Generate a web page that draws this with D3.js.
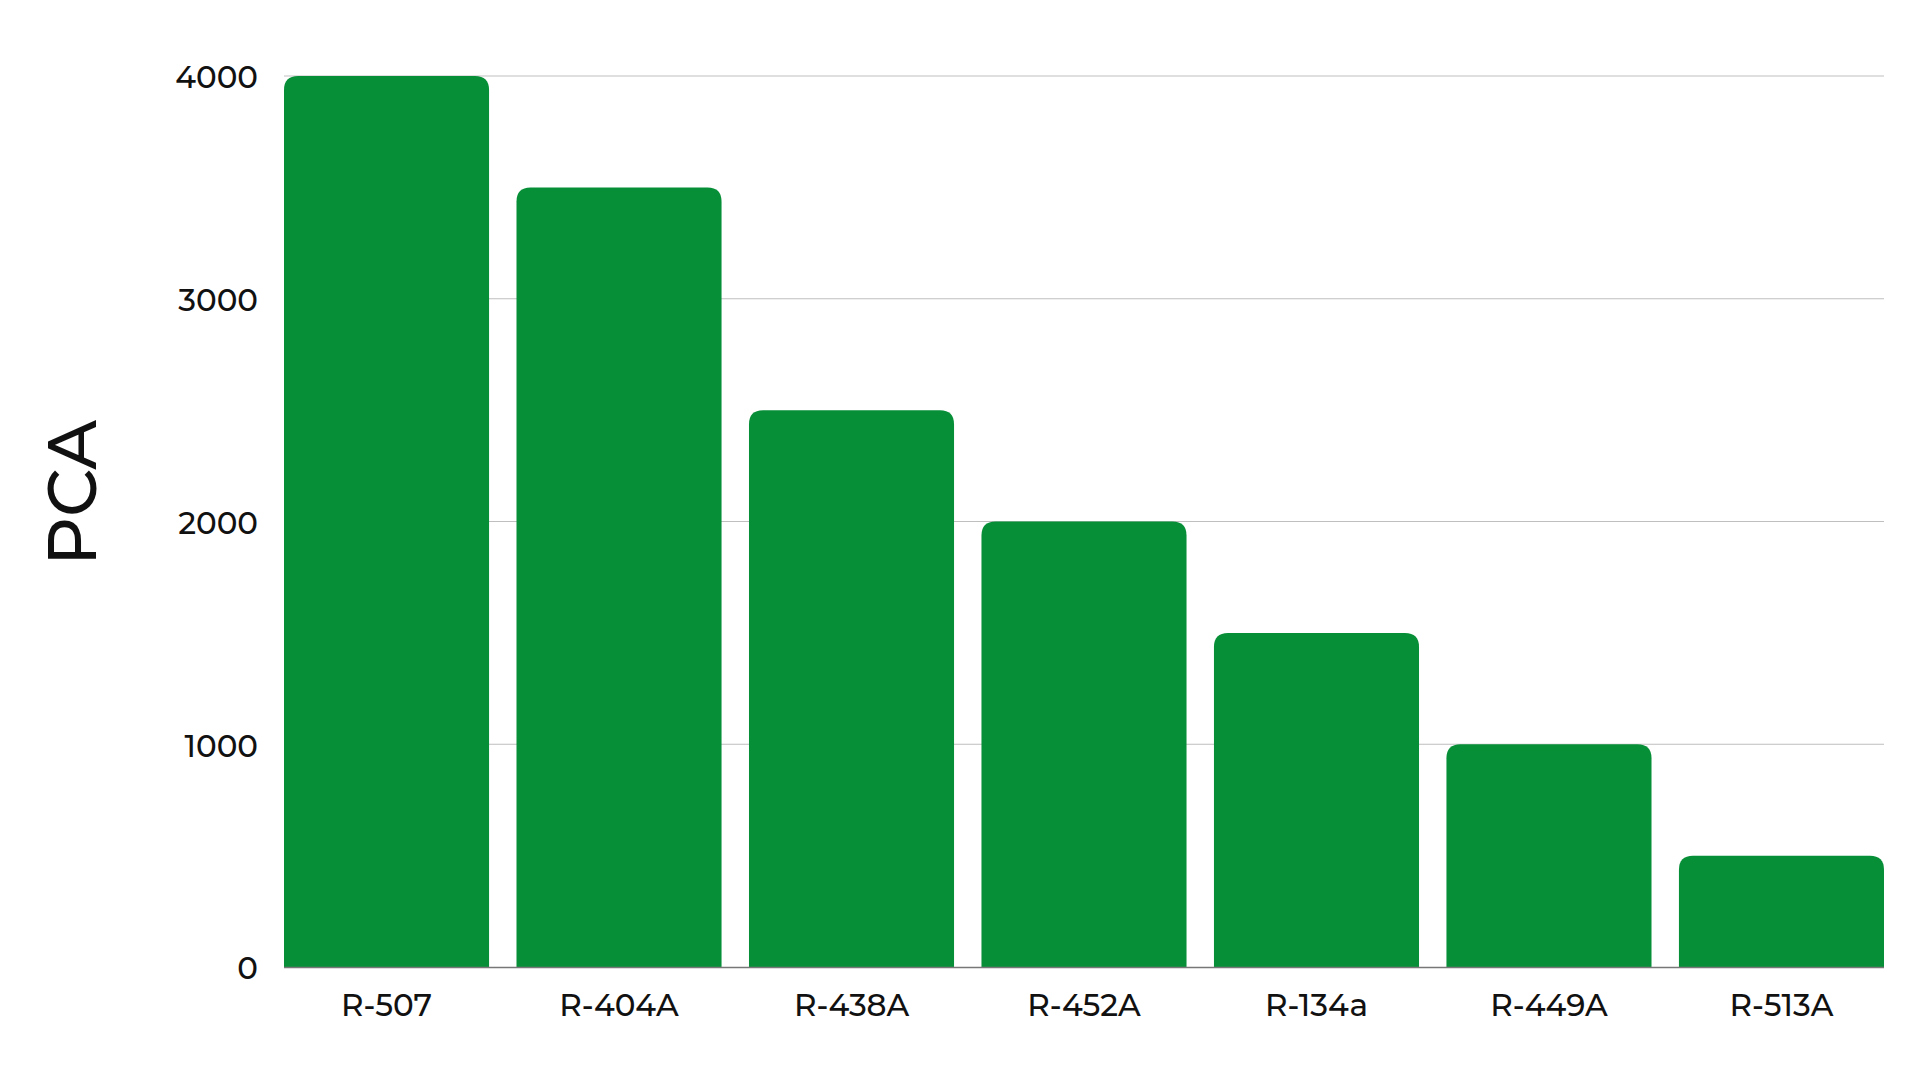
<!DOCTYPE html>
<html>
<head>
<meta charset="utf-8">
<script src="https://cdn.jsdelivr.net/npm/d3@7"></script>
<style>
  body { margin: 0; background: #fff; }
  text { font-family: Montserrat, "Open Sans", Lato, sans-serif; fill: #111; font-weight: 500; }
</style>
</head>
<body>
<div id="chart"></div>
<script>
const categories = ["R-507", "R-404A", "R-438A", "R-452A", "R-134a", "R-449A", "R-513A"]
const values = [4000, 3500, 2500, 2000, 1500, 1000, 500]
const yTicks = [0, 1000, 2000, 3000, 4000]

let width = 1920, height = 1080
let margin = {top: 76, right: 36, bottom: 113, left: 284}
let radius = 14

let svg = d3.select("#chart").append("svg")
  .attr("width", width)
  .attr("height", height)

let x = d3.scaleBand()
  .domain(categories)
  .range([margin.left, width - margin.right])
  .paddingInner(0.118)
  .paddingOuter(0)

let y = d3.scaleLinear()
  .domain([0, 4000])
  .range([height - margin.bottom, margin.top])

// gridlines
svg.append("g")
  .selectAll("line")
  .data(yTicks.filter(d => d > 0))
  .join("line")
  .attr("x1", margin.left)
  .attr("x2", width - margin.right)
  .attr("y1", d => y(d))
  .attr("y2", d => y(d))
  .attr("stroke", "#bfbfbf")
  .attr("stroke-width", 1)

// y tick labels
svg.append("g")
  .selectAll("text")
  .data(yTicks)
  .join("text")
  .attr("x", 258)
  .attr("y", d => y(d))
  .attr("dy", "0.4em")
  .attr("text-anchor", "end")
  .style("font-size", "31px")
  .text(d => d)

// bars with rounded top corners
function barPath(d, i) {
  let x0 = x(categories[i]), w = x.bandwidth()
  let y0 = y(d), yb = y(0)
  let r = Math.min(radius, (yb - y0))
  return "M" + x0 + "," + yb +
    "V" + (y0 + r) +
    "Q" + x0 + "," + y0 + " " + (x0 + r) + "," + y0 +
    "H" + (x0 + w - r) +
    "Q" + (x0 + w) + "," + y0 + " " + (x0 + w) + "," + (y0 + r) +
    "V" + yb + "Z"
}

svg.append("g")
  .selectAll("path")
  .data(values)
  .join("path")
  .attr("d", barPath)
  .attr("fill", "#078f38")

// baseline
svg.append("line")
  .attr("x1", margin.left)
  .attr("x2", width - margin.right)
  .attr("y1", y(0) + 0.5)
  .attr("y2", y(0) + 0.5)
  .attr("stroke", "#777")
  .attr("stroke-width", 1.5)

// x labels
svg.append("g")
  .selectAll("text")
  .data(categories)
  .join("text")
  .attr("x", d => x(d) + x.bandwidth() / 2)
  .attr("y", 1016)
  .attr("text-anchor", "middle")
  .style("font-size", "31px")
  .text(d => d)

// y axis title
svg.append("text")
  .attr("transform", "translate(96,493) rotate(-90)")
  .attr("text-anchor", "middle")
  .style("font-size", "68px")
  .text("PCA")
</script>
</body>
</html>
